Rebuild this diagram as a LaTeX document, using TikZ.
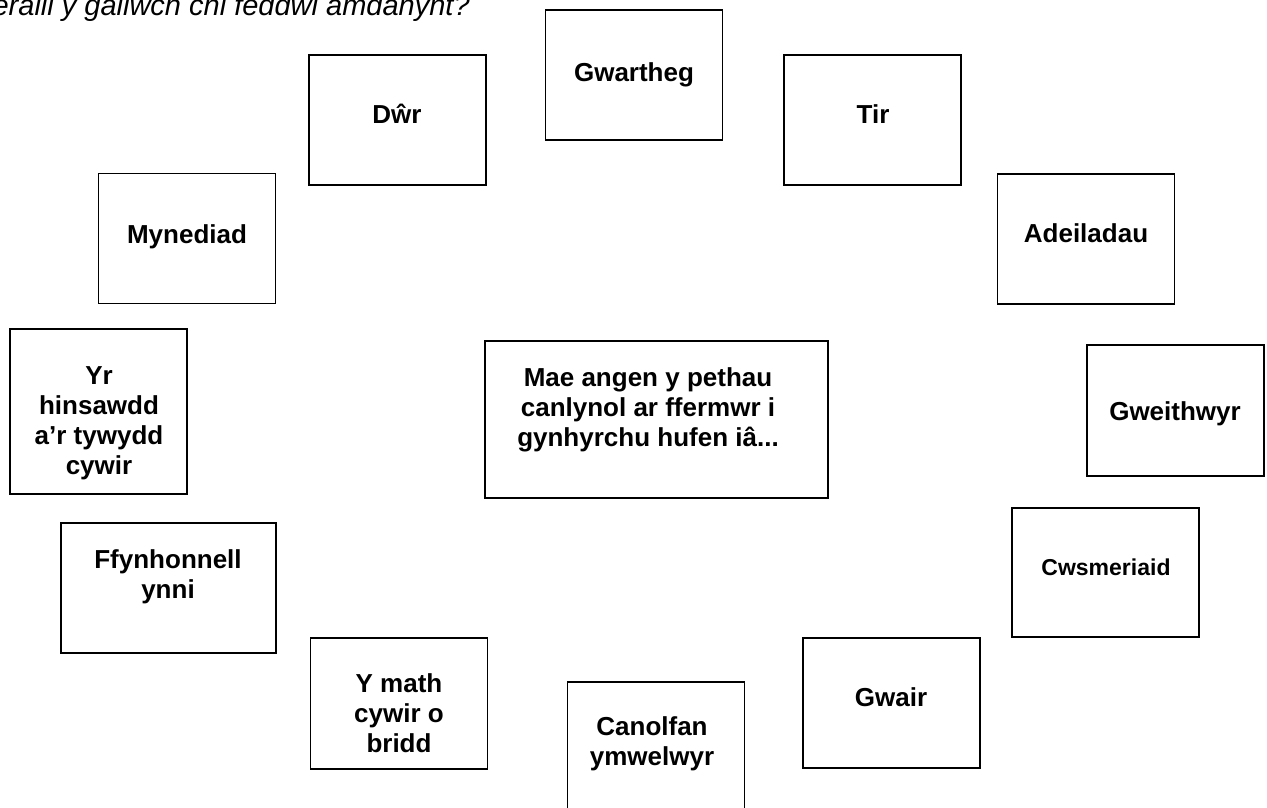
\documentclass[tikz,border=0pt]{standalone}
\usepackage{fontspec}
\setmainfont{Liberation Sans}
\begin{document}
\begin{tikzpicture}[x=0.75pt,y=-0.75pt,
  box/.style={draw,line width=1.3pt,rectangle,inner sep=0pt,minimum width=132.75pt,minimum height=97.5pt},
  lbl/.style={font=\fontsize{19.5}{22.5}\selectfont\bfseries,align=center,inner sep=0pt},
  lblsmall/.style={font=\fontsize{17.25}{20}\selectfont\bfseries,align=center,inner sep=0pt},
  question/.style={font=\fontsize{21.75}{26}\selectfont\itshape,inner sep=0pt}]
\useasboundingbox (0,0) rectangle (1267,807);
\clip (0,0) rectangle (1267,807);

% question text (cut at left edge, as in the reference)
\node[question,anchor=base east] (q) at (470,15) {eraill y gallwch chi feddwl amdanynt?};

% boxes
\node[box] (gwartheg) at (634,75) {};
\node[box] (dwr) at (397.5,120) {};
\node[box] (tir) at (872.5,120) {};
\node[box] (mynediad) at (187,238.5) {};
\node[box] (adeiladau) at (1086,239) {};
\node[box,minimum height=123.75pt] (hinsawdd) at (98.5,411.5) {};
\node[box,minimum width=161.25pt] (ffynhonnell) at (168.5,588) {};
\node[box,minimum width=257.25pt,minimum height=117.75pt] (canol) at (656.5,419.5) {};
\node[box,minimum height=98.25pt] (gweithwyr) at (1175.5,410.5) {};
\node[box,minimum width=140.25pt,minimum height=96.75pt] (cwsmeriaid) at (1105.5,572.5) {};
\node[box] (gwair) at (891.5,703) {};
\node[box,minimum height=98.25pt] (ymath) at (399,703.5) {};
\node[box] (canolfan) at (656,747) {};

% labels
\node[lbl,anchor=base] (tgwartheg) at (634,81) {Gwartheg};
\node[lbl,anchor=base] (tdwr) at (397,123) {Dŵr};
\node[lbl,anchor=base] (ttir) at (873,123) {Tir};
\node[lbl,anchor=base] (tmynediad) at (187,243) {Mynediad};
\node[lbl,anchor=base] (tadeiladau) at (1086,242) {Adeiladau};
\node[lbl] (thinsawdd) at (99,423) {Yr\\hinsawdd\\a’r tywydd\\cywir};
\node[lbl] (tffynhonnell) at (168,577) {Ffynhonnell\\ynni};
\node[lbl] (tcanol) at (648,410) {Mae angen y pethau\\canlynol ar ffermwr i\\gynhyrchu hufen iâ...};
\node[lbl,anchor=base] (tgweithwyr) at (1175,420) {Gweithwyr};
\node[lblsmall,anchor=base] (tcwsmeriaid) at (1106,575) {Cwsmeriaid};
\node[lbl,anchor=base] (tgwair) at (891,706) {Gwair};
\node[lbl] (tymath) at (399,713) {Y math\\cywir o\\bridd};
\node[lbl] (tcanolfan) at (652,744) {Canolfan\\ymwelwyr};
\end{tikzpicture}
\end{document}
